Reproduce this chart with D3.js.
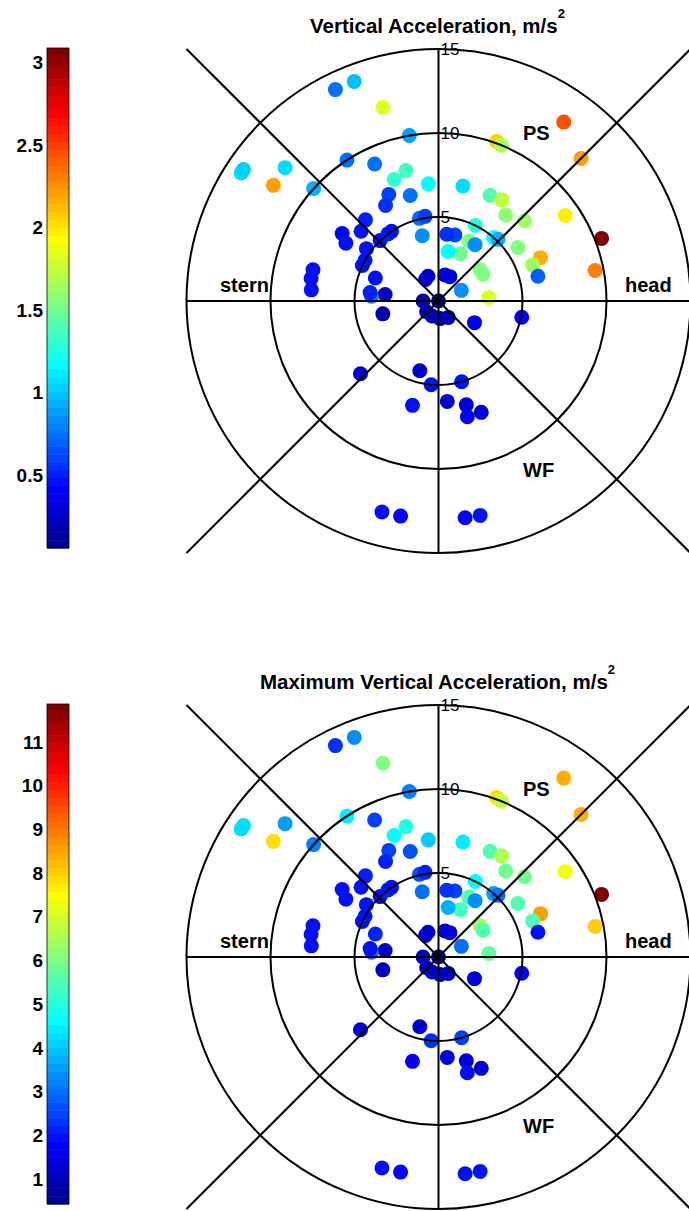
<!DOCTYPE html>
<html>
<head>
<meta charset="utf-8">
<script src="https://cdn.jsdelivr.net/npm/d3@7"></script>
<style>
    body { margin: 0; background: #fff; }
    svg text { font-family: "Liberation Sans", Arial, Helvetica, sans-serif; }
</style>
</head>
<body>
<svg id="chart" width="689" height="1211"></svg>
<script>
// heading of each reading, deg (0 = head, 90 = PS, 180 = stern, 270 = WF)
const direction = [116, 111, 106, 100, 147, 146, 139, 145, 138, 123, 115, 104, 110, 95, 115, 105, 119,
    55, 45, 70, 68, 78, 64, 58, 52, 43, 34, 21, 11, 23, 21, 14, 34, 64, 49, 46, 63, 57, 65, 79, 76, 83,
    37, 31, 4, 25, 65, 76, 103, 99, 104, 113, 121, 0, 180, 222, 247, 275, 301, 329, 349, 193, 173, 176,
    173, 160, 151, 155, 144, 134, 127, 124, 132, 138, 145, 148, 166, 170, 175, 223, 255, 265, 286, 256,
    275, 285, 291, 284, 255, 260, 277, 281];
// radial position on the grid
const radius = [14, 14, 12, 10, 14, 14, 12.1, 12, 10, 10, 9, 8, 7.7, 7, 7, 6.5, 6.5,
    13, 12, 10.1, 10, 7, 7, 7.1, 6.5, 7, 9.1, 10.4, 9.5, 6.6, 6, 6.1, 5.7, 5, 5, 5.1, 4, 4, 3.1, 3, 4.05, 4,
    3.1, 3.1, 3, 1.5, 1.6, 1.6, 5.05, 5.1, 4, 1.6, 1.5, 0, 0.92, 0.95, 0.97, 1.05, 1.14, 2.5, 5.05, 3.4, 3.2, 4,
    4.1, 4, 5, 5, 5.3, 5, 5, 5, 6.5, 6.2, 7, 6.5, 7.7, 7.7, 7.6, 6.35, 4.3, 5, 5, 6.4,
    6, 6.4, 7.1, 7.1, 13, 13, 13, 13];
// vertical acceleration, m/s^2
const verticalAccel = [0.75, 1.00, 1.85, 0.90, 1.10, 1.05, 1.10, 2.20, 0.95, 0.75, 0.75, 1.35, 1.30, 1.15, 0.60, 0.75, 0.55,
    2.45, 2.20, 2.05, 1.70, 1.10, 1.40, 1.75, 1.60, 1.65, 2.00, 3.09, 2.30, 2.15, 1.65, 0.70, 1.55, 1.25, 1.15, 0.95, 1.55, 0.85, 1.50, 1.15, 0.60, 0.55,
    1.55, 1.55, 1.85, 0.85, 0.30, 0.30, 0.75, 0.60, 0.85, 0.25, 0.25, 0.06, 0.18, 0.18, 0.18, 0.18, 0.20, 0.36, 0.40, 0.20, 0.22, 0.80,
    0.50, 0.45, 0.45, 0.45, 0.45, 0.48, 0.50, 0.48, 0.50, 0.45, 0.42, 0.45, 0.45, 0.45, 0.45, 0.27, 0.27, 0.45, 0.45, 0.45,
    0.27, 0.30, 0.30, 0.42, 0.45, 0.42, 0.42, 0.45];
// maximum vertical acceleration, m/s^2
const maxVerticalAccel = [2.3, 3.4, 6.0, 3.2, 4.3, 4.2, 3.5, 7.9, 3.2, 4.4, 2.5, 5.0, 4.6, 4.1, 2.4, 2.6, 2.2,
    8.4, 8.3, 7.8, 6.7, 4.5, 5.6, 6.6, 5.8, 5.8, 7.3, 11.87, 8.0, 8.5, 5.6, 2.0, 5.6, 4.6, 3.5, 3.1, 5.6, 3.4, 5.4, 3.8, 2.4, 2.3,
    6.4, 5.5, 5.7, 3.0, 1.4, 1.4, 2.6, 2.2, 3.1, 1.2, 1.2, 0.43, 1.0, 1.0, 1.0, 1.0, 1.0, 1.5, 1.7, 1.1, 1.1, 3.0,
    2.0, 2.2, 2.0, 2.0, 2.0, 2.0, 2.1, 2.0, 2.2, 2.0, 1.9, 1.9, 2.0, 2.0, 2.0, 1.2, 1.2, 2.3, 2.5, 1.8,
    1.4, 1.4, 1.3, 1.9, 2.0, 1.8, 1.9, 2.0];

const rings = [5, 10, 15];
const spokeAngles = [0, 45, 90, 135, 180, 225, 270, 315];
const barTicks1 = [0.5, 1, 1.5, 2, 2.5, 3];
const barTicks2 = [1, 2, 3, 4, 5, 6, 7, 8, 9, 10, 11];

const svg = d3.select('#chart');
const rMax = 15;
const rScale = d3.scaleLinear().domain([0, rMax]).range([0, 252]);

// MATLAB jet(m)
function jet(m) {
    const n = Math.ceil(m / 4);
    let u = [];
    for (let i = 1; i <= n; i++) u.push(i / n);
    for (let i = 1; i < n; i++) u.push(1);
    for (let i = n; i >= 1; i--) u.push(i / n);
    const g0 = Math.ceil(n / 2) - (m % 4 === 1 ? 1 : 0);
    const cmap = d3.range(m).map(() => [0, 0, 0]);
    u.forEach((val, k) => {
        const g = g0 + k + 1, r = g + n, b = g - n;
        if (g >= 1 && g <= m) cmap[g - 1][1] = val;
        if (r >= 1 && r <= m) cmap[r - 1][0] = val;
        if (b >= 1 && b <= m) cmap[b - 1][2] = val;
    });
    return cmap.map(c => d3.rgb(c[0] * 255, c[1] * 255, c[2] * 255).toString());
}
const colors = jet(64);

function drawPanel(top, values, titleText, ticks) {
    const cx = 438.5, cy = top + 253;
    const extent = d3.extent(values);
    const colorIdx = d3.scaleQuantize().domain(extent).range(d3.range(64));

    const g = svg.append('g');

    // colorbar
    const barX = 47, barW = 22, barTop = top, barH = 500;
    const yBar = d3.scaleLinear().domain(extent).range([barTop + barH, barTop]);
    const bandH = barH / 64;
    g.append('g').selectAll('rect').data(colors).join('rect')
        .attr('x', barX).attr('width', barW)
        .attr('y', (d, i) => barTop + barH - (i + 1) * bandH)
        .attr('height', bandH + 0.5)
        .attr('fill', d => d);
    g.append('rect').attr('x', barX).attr('y', barTop).attr('width', barW).attr('height', barH)
        .attr('fill', 'none').attr('stroke', '#000').attr('stroke-width', 0.8);
    const axis = g.append('g').attr('transform', `translate(${barX},0)`)
        .call(d3.axisLeft(yBar).tickValues(ticks).tickSize(0).tickPadding(4).tickFormat(d3.format('')));
    axis.select('.domain').remove();
    axis.selectAll('text').attr('font-size', 19).attr('font-weight', 'bold').attr('fill', '#000')
        .attr('font-family', '"Liberation Sans", Arial, sans-serif');

    // points
    const pts = direction.map((a, i) => ({ a: a * Math.PI / 180, r: radius[i], v: values[i] }));
    g.append('g').selectAll('circle').data(pts).join('circle')
        .attr('cx', d => cx + rScale(d.r) * Math.cos(d.a))
        .attr('cy', d => cy - rScale(d.r) * Math.sin(d.a))
        .attr('r', 7.5)
        .attr('fill', d => colors[colorIdx(d.v)]);

    // grid
    const grid = g.append('g').attr('stroke', '#000').attr('stroke-width', 2).attr('fill', 'none');
    grid.selectAll('circle').data(rings).join('circle')
        .attr('cx', cx).attr('cy', cy).attr('r', d => rScale(d));
    grid.selectAll('line').data(spokeAngles).join('line')
        .attr('x1', cx).attr('y1', cy)
        .attr('x2', d => cx + rScale(rMax) * Math.round(Math.cos(d * Math.PI / 180) * 1e6) / 1e6 * (d % 90 ? Math.SQRT2 : 1))
        .attr('y2', d => cy - rScale(rMax) * Math.round(Math.sin(d * Math.PI / 180) * 1e6) / 1e6 * (d % 90 ? Math.SQRT2 : 1));

    // ring labels
    g.append('g').selectAll('text').data(rings).join('text')
        .attr('x', cx + 2).attr('y', d => cy - rScale(d))
        .attr('dominant-baseline', 'central')
        .attr('font-size', 17)
        .text(d => d);

    // direction labels
    const lbl = g.append('g').attr('font-size', 20).attr('font-weight', 'bold');
    lbl.append('text').attr('x', cx - 218.5).attr('y', cy - 9).text('stern');
    lbl.append('text').attr('x', cx + 186.5).attr('y', cy - 9).text('head');
    lbl.append('text').attr('x', cx + 84.5).attr('y', cy - 161).text('PS');
    lbl.append('text').attr('x', cx + 84.5).attr('y', cy + 176).text('WF');

    // title
    const t = g.append('text').attr('x', cx - 1).attr('y', cy - 268)
        .attr('text-anchor', 'middle').attr('font-size', 20.5).attr('font-weight', 'bold');
    t.append('tspan').text(titleText);
    t.append('tspan').attr('dy', -15).attr('font-size', 13).text('2');
}

drawPanel(48, verticalAccel, 'Vertical Acceleration, m/s', barTicks1);
drawPanel(704, maxVerticalAccel, 'Maximum Vertical Acceleration, m/s', barTicks2);
</script>
</body>
</html>
